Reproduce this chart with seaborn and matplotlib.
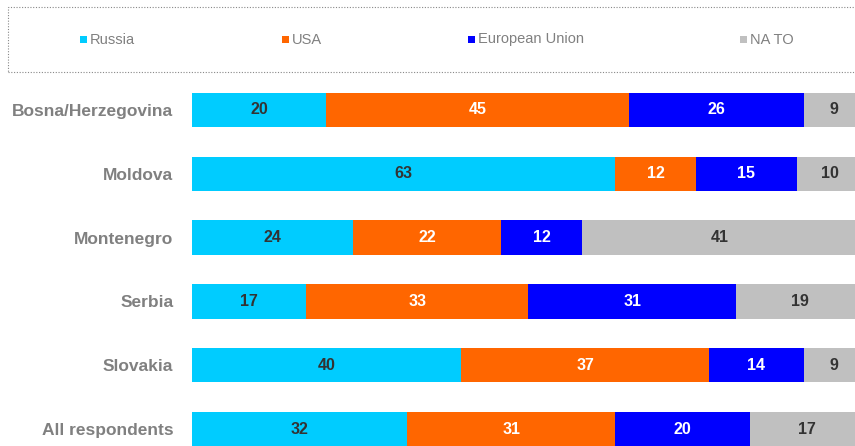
import numpy as np
import pandas as pd
import seaborn as sns
import matplotlib.pyplot as plt
from matplotlib.patches import Rectangle

# data
categories = ['Bosna/Herzegovina', 'Moldova', 'Montenegro', 'Serbia', 'Slovakia', 'All respondents']
series_names = ['Russia', 'USA', 'European Union', 'NA TO']
russia = [20, 63, 24, 17, 40, 32]
usa = [45, 12, 22, 33, 37, 31]
eu = [26, 15, 12, 31, 14, 20]
nato = [9, 10, 41, 19, 9, 17]

colors = ['#00ccff', '#ff6600', '#0000ff', '#c0c0c0']
text_colors = ['#333333', 'white', 'white', '#333333']

values = np.array([russia, usa, eu, nato])
cum = values.cumsum(axis=0)

df = pd.DataFrame({'category': categories})
for i, name in enumerate(series_names):
    df[name] = cum[i]

sns.set_style('white')
plt.rcParams['font.family'] = ['Liberation Sans', 'DejaVu Sans']

fig = plt.figure(figsize=(8.55, 4.46), dpi=100)
ax = fig.add_axes([192 / 855, 0, 672 / 855, (446 - 80) / 446])

# stacked bars: draw cumulative totals from the outermost segment inwards
for i in range(len(series_names) - 1, -1, -1):
    sns.barplot(data=df, x=series_names[i], y='category', orient='h',
                color=colors[i], width=0.54, saturation=1, linewidth=0, ax=ax)

# value labels in the middle of each segment
for i in range(len(series_names)):
    for j in range(len(categories)):
        start = cum[i][j] - values[i][j]
        ax.text(start + values[i][j] / 2, j, str(values[i][j]),
                ha='center', va='center', fontsize=11.5, fontweight='bold',
                color=text_colors[i])

ax.set_xlim(0, 100)
ax.set_ylim(5.266, -0.47)
ax.set_xlabel('')
ax.set_ylabel('')
ax.set_xticks([])
ax.tick_params(axis='y', length=0, pad=13.5)
for lab in ax.get_yticklabels():
    lab.set_fontsize(12.5)
    lab.set_fontweight('bold')
    lab.set_color('#808080')
sns.despine(ax=ax, left=True, bottom=True)

# legend with a dotted box on top
fig.patches.append(Rectangle((8 / 855, 1 - 72 / 446), 860 / 855, 65 / 446,
                             transform=fig.transFigure, fill=False,
                             edgecolor='#888888', linestyle=(0, (1, 1.5)),
                             linewidth=0.8))
legend_x = [80, 282, 468, 740]
for name, c, x in zip(series_names, colors, legend_x):
    fig.patches.append(Rectangle((x / 855, 1 - 43 / 446), 7 / 855, 7 / 446,
                                 transform=fig.transFigure, facecolor=c,
                                 edgecolor='none'))
    fig.text((x + 10) / 855, 1 - 39.5 / 446, name, ha='left', va='center',
             fontsize=10.5, color='#808080')

fig.savefig('out.png', dpi=100)
